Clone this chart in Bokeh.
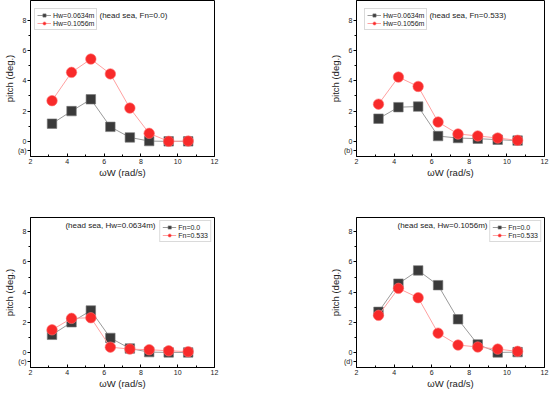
from bokeh.plotting import figure
from bokeh.models import Legend, LegendItem, Label, FixedTicker, Range1d
from bokeh.layouts import gridplot
from bokeh.embed import file_html
from bokeh.resources import INLINE

# ---- data ----
omega = [3.17, 4.23, 5.28, 6.34, 7.40, 8.45, 9.51, 10.57]
hw0634_fn0 = [1.17, 2.00, 2.78, 0.96, 0.26, 0.02, 0.00, 0.00]
hw1056_fn0 = [2.69, 4.56, 5.44, 4.46, 2.20, 0.53, 0.00, 0.02]
hw0634_fn533 = [1.50, 2.26, 2.30, 0.35, 0.22, 0.18, 0.11, 0.05]
hw1056_fn533 = [2.46, 4.25, 3.63, 1.28, 0.49, 0.36, 0.22, 0.07]

x_ticks = [2, 4, 6, 8, 10, 12]
y_ticks = [0, 2, 4, 6, 8]

FONT = "Liberation Sans"
SQ_COLOR = "#3a3a3a"
SQ_LINE = "#9a9a9a"
CI_COLOR = "#f82a2a"
CI_LINE = "#ffa0a0"
LEG_H = 19
LEFT_W = 29


def panel(series, labels, note, note_x, letter, top_row, right_col):
    fh = 156 if top_row else 150
    y_end = 9.31 if top_row else 8.95
    fw = 188 if right_col else 184
    p = figure(frame_width=fw, frame_height=fh, output_backend="svg",
               toolbar_location=None, x_range=Range1d(2, 12),
               y_range=Range1d(-1, y_end))
    p.min_border_left = LEFT_W
    p.min_border_right = 8 if right_col else (354 - 2 * LEFT_W - fw)
    p.min_border_top = 0
    p.min_border_bottom = 61 if top_row else 26
    p.xgrid.visible = False
    p.ygrid.visible = False
    p.outline_line_color = "black"
    p.outline_line_width = 1
    p.background_fill_color = "white"
    p.border_fill_color = "white"

    p.xaxis.ticker = FixedTicker(ticks=x_ticks, minor_ticks=[3, 5, 7, 9, 11])
    p.yaxis.ticker = FixedTicker(ticks=y_ticks + [-0.62], minor_ticks=[1, 3, 5, 7])
    p.yaxis.major_label_overrides = {-0.62: letter}
    for ax in (p.xaxis[0], p.yaxis[0]):
        ax.axis_line_color = "black"
        ax.major_label_text_font = FONT
        ax.major_label_text_font_size = "7px"
        ax.major_label_text_color = "#222222"
        ax.axis_label_text_font = FONT
        ax.axis_label_text_font_size = "9.5px"
        ax.axis_label_text_font_style = "normal"
        ax.axis_label_text_color = "#222222"
        ax.major_label_standoff = 2
        ax.axis_label_standoff = 0
        ax.minor_tick_line_color = "black"
    p.yaxis.major_label_standoff = 1
    p.xaxis.major_tick_in = 3
    p.xaxis.major_tick_out = 0
    p.xaxis.minor_tick_in = 2
    p.xaxis.minor_tick_out = 0
    p.yaxis.major_tick_in = 0
    p.yaxis.major_tick_out = 3
    p.yaxis.minor_tick_in = 0
    p.yaxis.minor_tick_out = 2
    p.xaxis.axis_label = "ωW (rad/s)"
    p.yaxis.axis_label = "pitch (deg.)"

    (y1, y2) = series
    l1 = p.line(omega, y1, line_color=SQ_LINE, line_width=1)
    m1 = p.scatter(omega, y1, marker="square", size=9.5, fill_color=SQ_COLOR,
                   line_color="#777777", line_width=0.6)
    l2 = p.line(omega, y2, line_color=CI_LINE, line_width=1)
    m2 = p.scatter(omega, y2, marker="circle", size=10.5, fill_color=CI_COLOR,
                   line_color="#ff7070", line_width=0.6)

    legend = Legend(items=[LegendItem(label=labels[0], renderers=[l1, m1]),
                           LegendItem(label=labels[1], renderers=[l2, m2])])
    legend.label_text_font = FONT
    legend.label_text_font_size = "7px"
    legend.label_text_color = "#222222"
    legend.label_height = 8
    legend.glyph_height = 8
    legend.glyph_width = 14
    legend.label_standoff = 2
    legend.spacing = 0
    legend.padding = 2
    legend.margin = 0
    legend.border_line_color = "#b5b5b5"
    legend.border_line_width = 1
    legend.background_fill_alpha = 1
    if top_row:
        x_off = 8 if right_col else 4
        legend.location = (x_off, fh - 11 - LEG_H)
    else:
        legend.location = "top_right"
        legend.margin = 3
    p.add_layout(legend)

    note_y = 8.35 if top_row else 8.4
    p.add_layout(Label(x=note_x, y=note_y, text=note, text_font=FONT,
                       text_font_size="8px", text_color="#222222",
                       text_baseline="middle", text_align="left"))
    return p


pa = panel((hw0634_fn0, hw1056_fn0), ("Hw=0.0634m", "Hw=0.1056m"),
           "(head sea, Fn=0.0)", 5.75, "(a)", True, False)
pb = panel((hw0634_fn533, hw1056_fn533), ("Hw=0.0634m", "Hw=0.1056m"),
           "(head sea, Fn=0.533)", 5.88, "(b)", True, True)
pc = panel((hw0634_fn0, hw0634_fn533), ("Fn=0.0", "Fn=0.533"),
           "(head sea, Hw=0.0634m)", 3.90, "(c)", False, False)
pd = panel((hw1056_fn0, hw1056_fn533), ("Fn=0.0", "Fn=0.533"),
           "(head sea, Hw=0.1056m)", 4.18, "(d)", False, True)

grid = gridplot([[pa, pb], [pc, pd]], toolbar_location=None)

open("out.html", "w").write(file_html(grid, INLINE))
